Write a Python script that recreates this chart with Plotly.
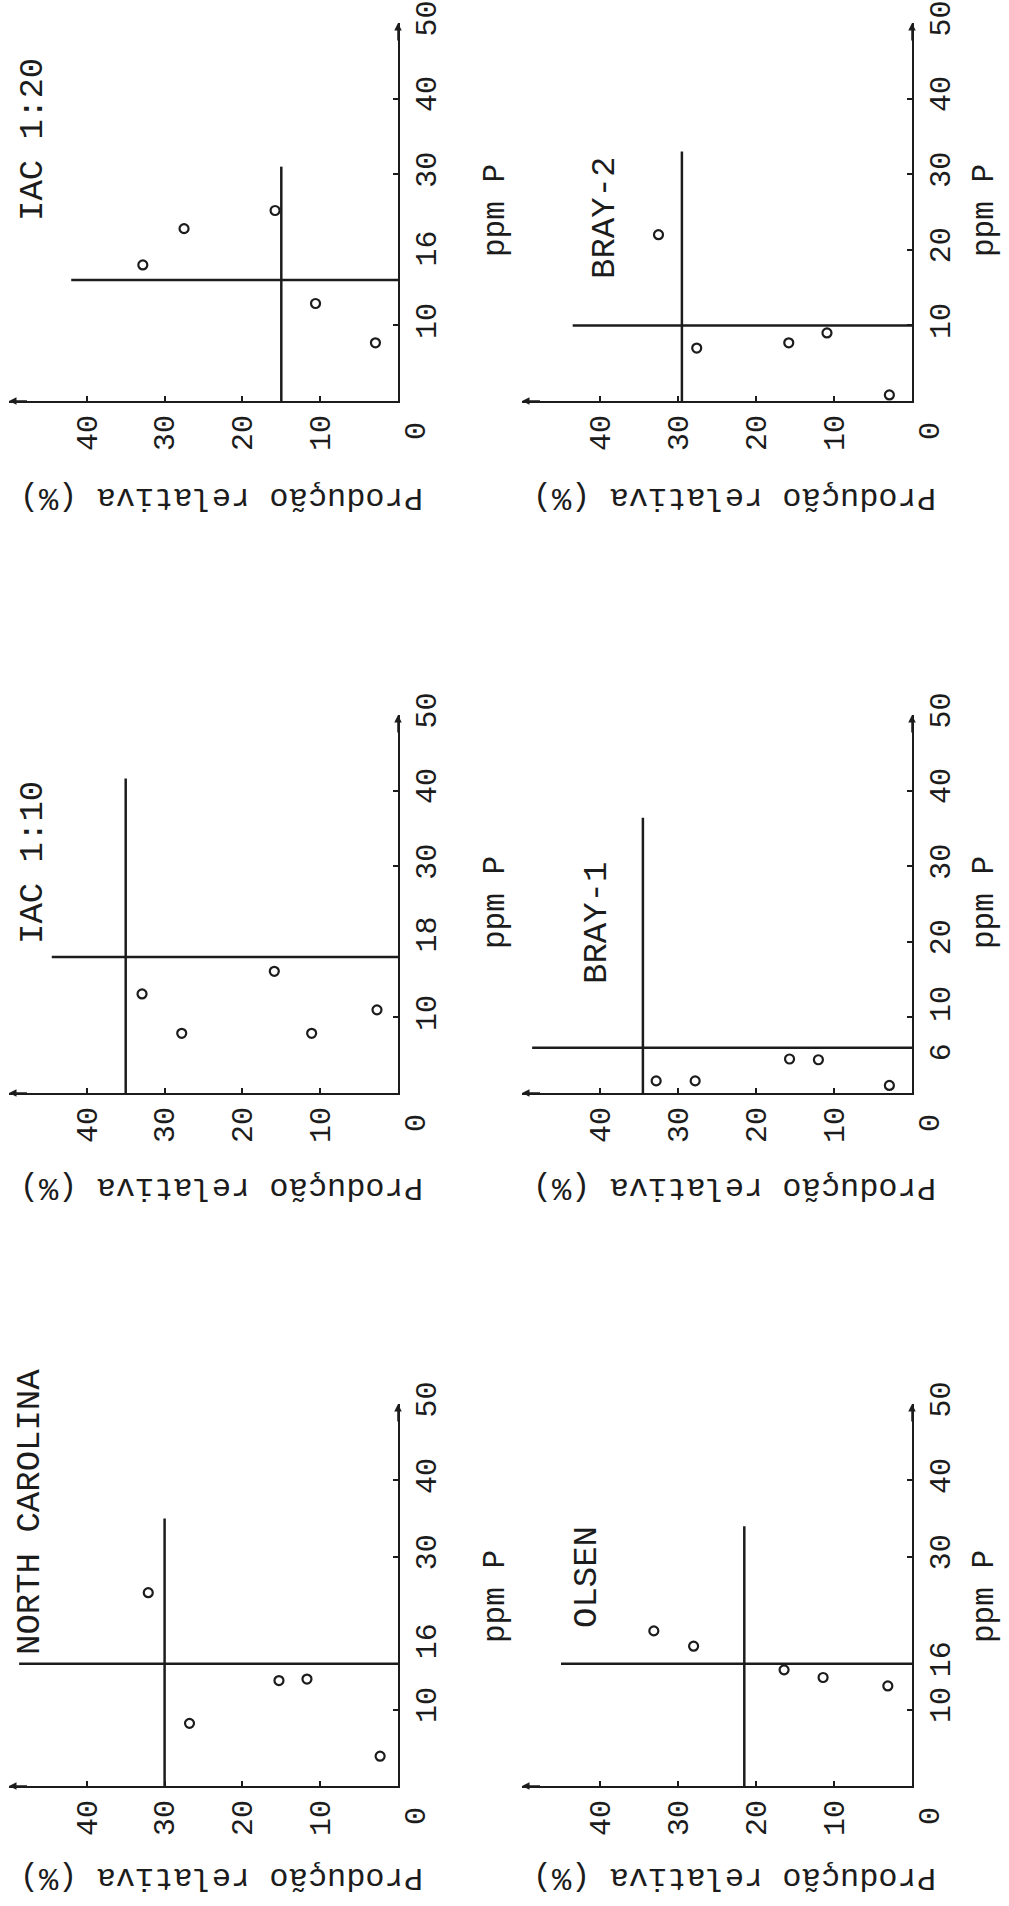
import plotly.graph_objects as go

W, H = 1009, 1906

# ---------------- data ----------------
panel_names = ["IAC 1:20", "BRAY-2", "IAC 1:10", "BRAY-1", "NORTH CAROLINA", "OLSEN"]

# Produção relativa (%) and ppm P for each extractor
prod_iac20 = [32.8, 27.5, 15.8, 10.6, 2.9]
ppm_iac20 = [18.0, 22.8, 25.2, 12.9, 7.7]

prod_bray2 = [32.5, 27.6, 15.8, 10.9, 2.9]
ppm_bray2 = [22.0, 7.0, 7.7, 9.0, 0.8]

prod_iac10 = [32.9, 27.8, 15.9, 11.1, 2.7]
ppm_iac10 = [13.1, 7.9, 16.1, 7.9, 11.0]

prod_bray1 = [32.8, 27.8, 15.7, 12.0, 2.9]
ppm_bray1 = [1.6, 1.6, 4.5, 4.4, 1.0]

prod_nc = [32.1, 26.8, 15.3, 11.7, 2.3]
ppm_nc = [25.3, 8.2, 13.8, 14.0, 3.9]

prod_olsen = [33.1, 28.0, 16.4, 11.4, 3.1]
ppm_olsen = [20.3, 18.3, 15.2, 14.2, 13.1]

prod_series = [prod_iac20, prod_bray2, prod_iac10, prod_bray1, prod_nc, prod_olsen]
ppm_series = [ppm_iac20, ppm_bray2, ppm_iac10, ppm_bray1, ppm_nc, ppm_olsen]

# Cate-Nelson critical levels
crit_ppm = [16, 10, 18, 6, 16, 16]                     # critical soil P (ppm)
crit_ppm_extent = [42, 43.5, 44.5, 48.7, 48.7, 45]     # produção reached by that line
crit_prod = [15, 29.5, 35, 34.5, 30, 21.5]             # critical relative production (%)
crit_prod_extent = [31, 33, 41.6, 36.4, 35, 34]        # ppm reached by that line

ppm_ticks = [
    [10, 16, 30, 40, 50],
    [10, 20, 30, 40, 50],
    [10, 18, 30, 40, 50],
    [6, 10, 20, 30, 40, 50],
    [10, 16, 30, 40, 50],
    [10, 16, 30, 40, 50],
]
prod_ticks = [10, 20, 30, 40]

ppm_title = "ppm P"
prod_title = "Produção relativa (%)"

# ---------------- layout ----------------
FONT = "Liberation Mono, Courier New, monospace"
INK = "#1c1c1c"
NB = "\u00a0"

col_px = [(9, 398), (522, 912)]
row_px = [(23, 401), (715, 1093), (1404, 1786)]

title_px = [(33, 140), (605, 218), (33, 863), (597, 923), (30, 1512), (587, 1577)]
ppm_title_x = [495, 984]
ppm_title_y = [211, 903, 1597]
prod_title_x = [222, 735]
prod_title_y = [498, 1188, 1878]

# typed labels sit a little off their tick in the original: (panel, value) -> (lead, trail) spaces
label_nudge = {(0, 16): (3, 0), (2, 18): (2, 0), (3, 6): (0, 1), (3, 10): (1, 0), (4, 16): (2, 0)}


def px(x):
    return x / W


def py(y):
    return 1 - y / H


def label(x, y, text, angle, size):
    return dict(x=px(x), y=py(y), xref="paper", yref="paper", text=text,
                showarrow=False, textangle=angle, xanchor="center", yanchor="middle",
                font=dict(family=FONT, size=size, color=INK))


def ppm_text(i, v):
    lead, trail = label_nudge.get((i, v), (0, 0))
    return NB * lead + str(v) + NB * trail


fig = go.Figure()
layout = dict(
    width=W, height=H,
    margin=dict(l=0, r=0, t=0, b=0),
    paper_bgcolor="white", plot_bgcolor="rgba(0,0,0,0)",
    showlegend=False,
    template="none",
    font=dict(family=FONT, color=INK),
)
annotations = []
shapes = []

for i in range(6):
    r, c = divmod(i, 2)
    n = i + 1
    xa = "x" if n == 1 else f"x{n}"
    ya = "y" if n == 1 else f"y{n}"
    xkey = "xaxis" if n == 1 else f"xaxis{n}"
    ykey = "yaxis" if n == 1 else f"yaxis{n}"
    x0, x1 = col_px[c]
    y0, y1 = row_px[r]

    layout[xkey] = dict(
        domain=[px(x0), px(x1)], range=[50, 0], anchor=ya,
        showline=True, linecolor=INK, linewidth=2,
        ticks="inside", ticklen=5, tickwidth=1.5, tickcolor=INK,
        tickvals=prod_ticks, ticktext=[str(v) for v in prod_ticks],
        tickangle=-90, tickfont=dict(family=FONT, size=30, color=INK),
        showgrid=False, zeroline=False, automargin=False, fixedrange=True,
    )
    layout[ykey] = dict(
        domain=[py(y1), py(y0)], range=[0, 50], anchor=xa, side="right",
        showline=True, linecolor=INK, linewidth=2,
        ticks="inside", ticklen=5, tickwidth=1.5, tickcolor=INK,
        tickvals=ppm_ticks[i], ticktext=[ppm_text(i, v) for v in ppm_ticks[i]],
        tickangle=-90, tickfont=dict(family=FONT, size=30, color=INK),
        showgrid=False, zeroline=False, automargin=False, fixedrange=True,
    )

    fig.add_trace(go.Scatter(
        x=prod_series[i], y=ppm_series[i], mode="markers",
        xaxis=xa, yaxis=ya, cliponaxis=False,
        marker=dict(symbol="circle-open", size=9, color=INK, line=dict(width=2.2, color=INK)),
    ))

    # critical lines
    shapes.append(dict(type="line", xref=xa, yref=ya,
                       x0=0, x1=crit_ppm_extent[i], y0=crit_ppm[i], y1=crit_ppm[i],
                       line=dict(color=INK, width=2.5)))
    shapes.append(dict(type="line", xref=xa, yref=ya,
                       x0=crit_prod[i], x1=crit_prod[i], y0=0, y1=crit_prod_extent[i],
                       line=dict(color=INK, width=2.5)))

    # arrow heads at the axis ends
    annotations.append(dict(x=50, y=0, ax=47.5, ay=0, xref=xa, yref=ya, axref=xa, ayref=ya,
                            text="", showarrow=True, arrowhead=2, arrowsize=1, arrowwidth=1.5,
                            arrowcolor=INK))
    annotations.append(dict(x=0, y=50, ax=0, ay=47.5, xref=xa, yref=ya, axref=xa, ayref=ya,
                            text="", showarrow=True, arrowhead=2, arrowsize=1, arrowwidth=1.5,
                            arrowcolor=INK))

    # shared zero label at the corner
    annotations.append(label(x1 + 19, y1 + 30, "0", -90, 30))
    # panel title
    tx, ty = title_px[i]
    annotations.append(label(tx, ty, panel_names[i], -90, 34))
    # axis titles
    annotations.append(label(ppm_title_x[c], ppm_title_y[r], ppm_title, -90, 31))
    annotations.append(label(prod_title_x[c], prod_title_y[r], prod_title, 180, 32))

layout["annotations"] = annotations
layout["shapes"] = shapes
fig.update_layout(**layout)

fig.write_html("out.html")
